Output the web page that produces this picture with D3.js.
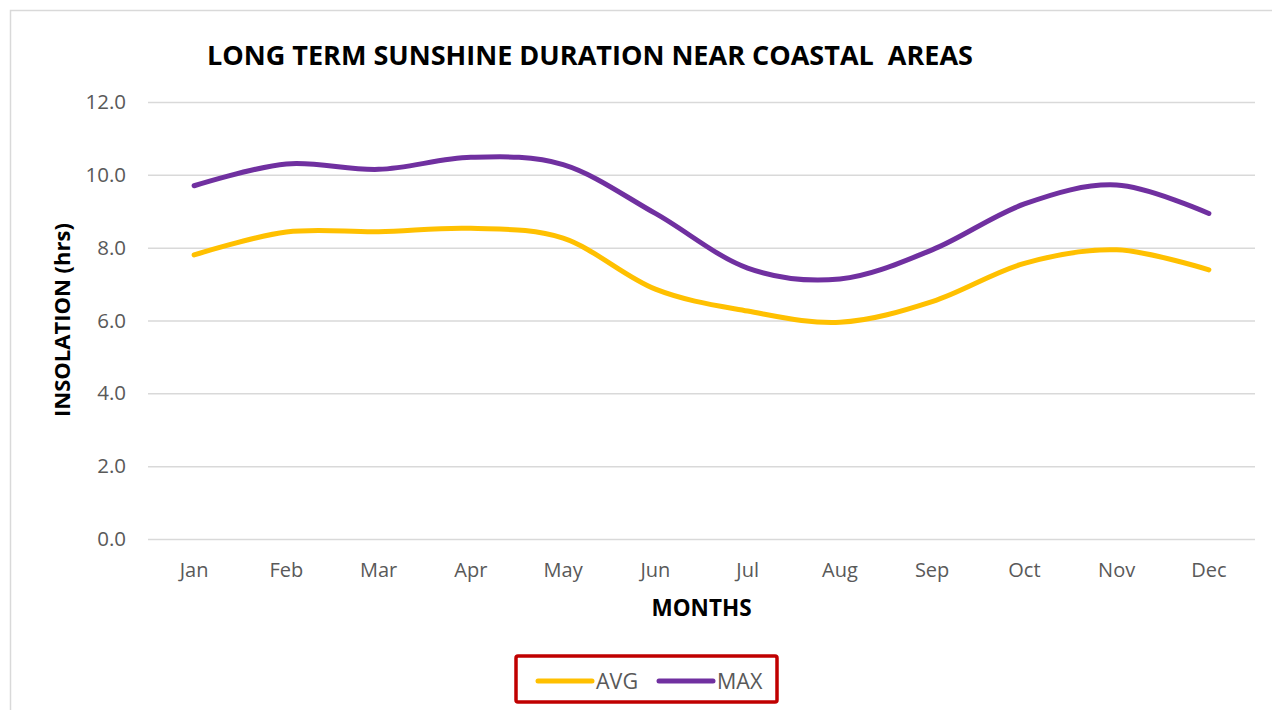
<!DOCTYPE html>
<html>
<head>
<meta charset="utf-8">
<script src="https://cdn.jsdelivr.net/npm/d3@7"></script>
<style>
  html, body { margin: 0; padding: 0; background: #fff; }
  svg { display: block; }
</style>
</head>
<body>
<svg id="chart" width="1272" height="710"></svg>
<script>
// Monthly sunshine duration (hours per day)
const months = ["Jan", "Feb", "Mar", "Apr", "May", "Jun", "Jul", "Aug", "Sep", "Oct", "Nov", "Dec"];
const avgValues = [7.80, 8.43, 8.44, 8.53, 8.26, 6.86, 6.26, 5.95, 6.52, 7.57, 7.94, 7.39];
const maxValues = [9.70, 10.30, 10.15, 10.48, 10.28, 8.94, 7.44, 7.14, 7.94, 9.20, 9.72, 8.94];
const yTicks = [0, 2, 4, 6, 8, 10, 12];
const seriesNames = ["AVG", "MAX"];
const seriesColors = ["#FFC000", "#7030A0"];

const series = [
  { name: seriesNames[0], values: avgValues, color: seriesColors[0] },
  { name: seriesNames[1], values: maxValues, color: seriesColors[1] }
];

const svg = d3.select("#chart");
const font = "'Open Sans', 'Noto Sans', sans-serif";

// outer chart frame
svg.append("rect")
  .attr("x", 10.5).attr("y", 10.5)
  .attr("width", 1400).attr("height", 900)
  .attr("fill", "#fff")
  .attr("stroke", "#D9D9D9").attr("stroke-width", 1.5);

const plot = { left: 148, right: 1255, top: 102, bottom: 539 };

const x = d3.scaleBand().domain(months).range([plot.left, plot.right]).padding(0);
const y = d3.scaleLinear().domain([0, 12]).range([plot.bottom, plot.top]);

// horizontal gridlines + y tick labels
const yAxis = d3.axisLeft(y)
  .tickValues(yTicks)
  .tickFormat(d3.format(".1f"))
  .tickSize(-(plot.right - plot.left))
  .tickPadding(22);

const gy = svg.append("g")
  .attr("transform", `translate(${plot.left},0)`)
  .call(yAxis);
gy.select(".domain").remove();
gy.selectAll(".tick line").attr("stroke", "#D9D9D9").attr("stroke-width", 1.5);
gy.selectAll(".tick text")
  .attr("fill", "#595959")
  .style("font-family", font)
  .style("font-size", "20.5px");

// category labels
const xAxis = d3.axisBottom(x).tickSize(0).tickPadding(24);
const gx = svg.append("g")
  .attr("transform", `translate(0,${plot.bottom})`)
  .call(xAxis);
gx.select(".domain").remove();
gx.selectAll(".tick text")
  .attr("fill", "#595959")
  .style("font-family", font)
  .style("font-size", "20px");

// smoothed series lines
const line = d3.line()
  .x((d, i) => x(months[i]) + x.bandwidth() / 2)
  .y(d => y(d))
  .curve(d3.curveCatmullRom.alpha(0));

svg.append("g").selectAll("path")
  .data(series)
  .join("path")
  .attr("d", d => line(d.values))
  .attr("fill", "none")
  .attr("stroke", d => d.color)
  .attr("stroke-width", 5)
  .attr("stroke-linecap", "round")
  .attr("stroke-linejoin", "round");

// title
svg.append("text")
  .attr("x", 207).attr("y", 65)
  .attr("textLength", 766)
  .attr("lengthAdjust", "spacingAndGlyphs")
  .style("white-space", "pre")
  .style("font-family", font)
  .style("font-weight", "bold")
  .style("font-size", "27px")
  .attr("fill", "#000")
  .text("LONG TERM SUNSHINE DURATION NEAR COASTAL  AREAS");

// axis titles
svg.append("text")
  .attr("x", (plot.left + plot.right) / 2).attr("y", 616)
  .attr("text-anchor", "middle")
  .style("font-family", font)
  .style("font-weight", "bold")
  .style("font-size", "22.5px")
  .attr("fill", "#000")
  .text("MONTHS");

svg.append("text")
  .attr("transform", "translate(70,320) rotate(-90)")
  .attr("text-anchor", "middle")
  .style("font-family", font)
  .style("font-weight", "bold")
  .style("font-size", "22px")
  .attr("fill", "#000")
  .text("INSOLATION (hrs)");

// legend
const legend = svg.append("g");
legend.append("rect")
  .attr("x", 516).attr("y", 656)
  .attr("width", 261).attr("height", 46)
  .attr("rx", 2)
  .attr("fill", "#fff")
  .attr("stroke", "#C00000").attr("stroke-width", 3.5);

const legendX = [538, 659];
const items = legend.selectAll("g.item")
  .data(series)
  .join("g")
  .attr("class", "item")
  .attr("transform", (d, i) => `translate(${legendX[i]},681)`);
items.append("line")
  .attr("x1", 0).attr("x2", 54)
  .attr("stroke", d => d.color)
  .attr("stroke-width", 5)
  .attr("stroke-linecap", "round");
items.append("text")
  .attr("x", 58).attr("y", 7.5)
  .style("font-family", font)
  .style("font-size", "21.5px")
  .attr("fill", "#595959")
  .text(d => d.name);
</script>
</body>
</html>
